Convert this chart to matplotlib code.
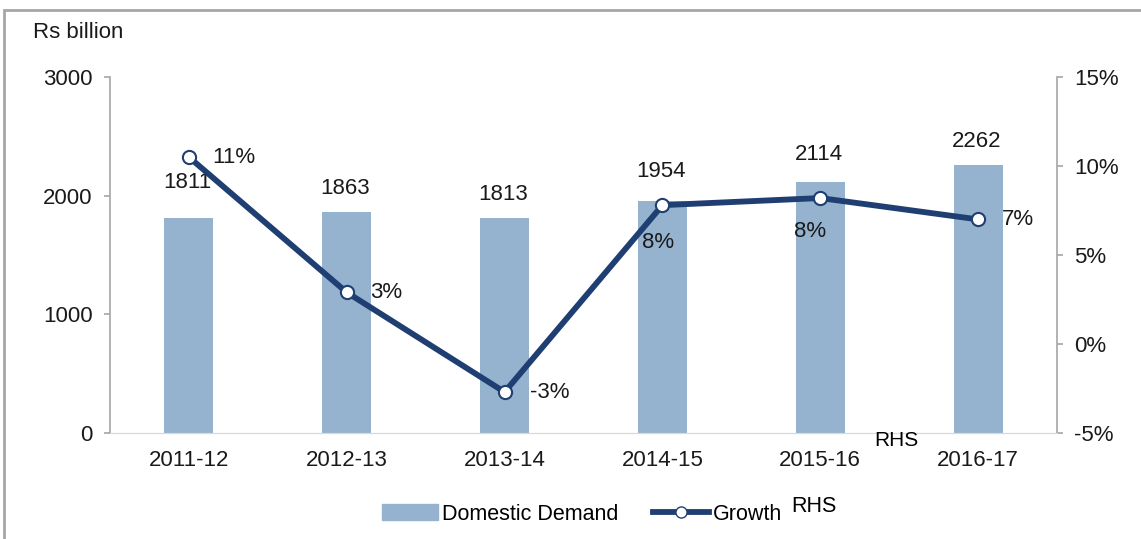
import numpy as np
import matplotlib.pyplot as plt
from matplotlib.patches import Rectangle, Patch
from matplotlib.lines import Line2D

# data
YEARS = ['2011-12', '2012-13', '2013-14', '2014-15', '2015-16', '2016-17']
DEMAND = [1811, 1863, 1813, 1954, 2114, 2262]  # Rs billion
GROWTH = [10.5, 2.9, -2.7, 7.8, 8.2, 7.0]  # % (RHS)
GROWTH_LABELS = ['11%', '3%', '-3%', '8%', '8%', '7%']

BAR_COLOR = '#95B3CF'
LINE_COLOR = '#1F3F73'
AXIS_GRAY = '#A6A6A6'
TEXT = '#1a1a1a'

plt.rcParams['font.family'] = ['Liberation Sans', 'DejaVu Sans']
plt.rcParams['font.size'] = 16

fig = plt.figure(figsize=(11.41, 5.39), dpi=100)
ax = fig.add_axes([0.0964, 0.1967, 0.83, 0.6604])
ax2 = ax.twinx()

x = np.arange(len(YEARS))
ax.bar(x, DEMAND, width=0.31, color=BAR_COLOR, zorder=2)
ax.set_xlim(-0.5, 5.5)
ax.set_ylim(0, 3000)
ax.set_yticks([0, 1000, 2000, 3000])
ax.set_xticks(x)
ax.set_xticklabels(YEARS)

# excel placed the value labels at slightly different heights
bar_lab_off = [18, 9, 9, 14, 12, 9]
for xi, v, off in zip(x, DEMAND, bar_lab_off):
    ax.annotate(str(v), (xi, v), xytext=(-1, off), textcoords='offset points',
                ha='center', va='bottom', color=TEXT)

ax2.plot(x, GROWTH, color=LINE_COLOR, lw=4.2, marker='o', ms=9.5,
         mfc='white', mec=LINE_COLOR, mew=1.5, zorder=5)
ax2.set_ylim(-5, 15)
ax2.set_yticks([-5, 0, 5, 10, 15])
ax2.set_yticklabels(['-5%', '0%', '5%', '10%', '15%'])

# growth labels: mostly to the right, the two 8% ones below the point
offsets = [(17, 0), (17, 0), (18, 0), (-15, -27), (-19, -24), (17, 0)]
for xi, g, lab, off in zip(x, GROWTH, GROWTH_LABELS, offsets):
    ax2.annotate(lab, (xi, g), xytext=off, textcoords='offset points',
                 ha='left', va='center', color=TEXT)

for a in (ax, ax2):
    a.spines['top'].set_visible(False)
    a.spines['bottom'].set_color('#D9D9D9')
    a.spines['left'].set_color(AXIS_GRAY)
    a.spines['right'].set_color(AXIS_GRAY)
    a.spines['left'].set_linewidth(1.2)
    a.spines['right'].set_linewidth(1.2)
ax.spines['right'].set_visible(False)
ax2.spines['left'].set_visible(False)
ax.tick_params(axis='y', length=4.5, width=1.2, color=AXIS_GRAY, pad=8, labelcolor=TEXT)
ax2.tick_params(axis='y', length=4.5, width=1.2, color=AXIS_GRAY, pad=8, labelcolor=TEXT)
ax.tick_params(axis='x', length=0, pad=12, labelcolor=TEXT)

fig.text(33 / 1141, 1 - 33 / 539, 'Rs billion', ha='left', va='center', color=TEXT)
fig.text(874 / 1141, 1 - 440 / 539, 'RHS', ha='left', va='center', color='black', fontsize=15)

# legend
handles = [Patch(color=BAR_COLOR),
           Line2D([], [], color=LINE_COLOR, lw=4.2, marker='o', ms=8, mfc='white', mec=LINE_COLOR)]
fig.legend(handles, ['Domestic Demand', 'Growth'], loc='center',
           bbox_to_anchor=(582 / 1141, 1 - 514 / 539), ncol=2, frameon=False,
           fontsize=15.5, handlelength=2.6, handletextpad=0.2, columnspacing=1.6)
fig.text(791 / 1141, 1 - 506 / 539, 'RHS', ha='left', va='center', color='black', fontsize=15.5)

# outer frame (only top and left edges are inside the crop)
fig.patches.append(Rectangle((4 / 1141, -0.1), 1.2, 1.1 - 10 / 539,
                             transform=fig.transFigure, fill=False,
                             edgecolor=AXIS_GRAY, lw=2, zorder=0))

fig.savefig('out.png', dpi=100)
